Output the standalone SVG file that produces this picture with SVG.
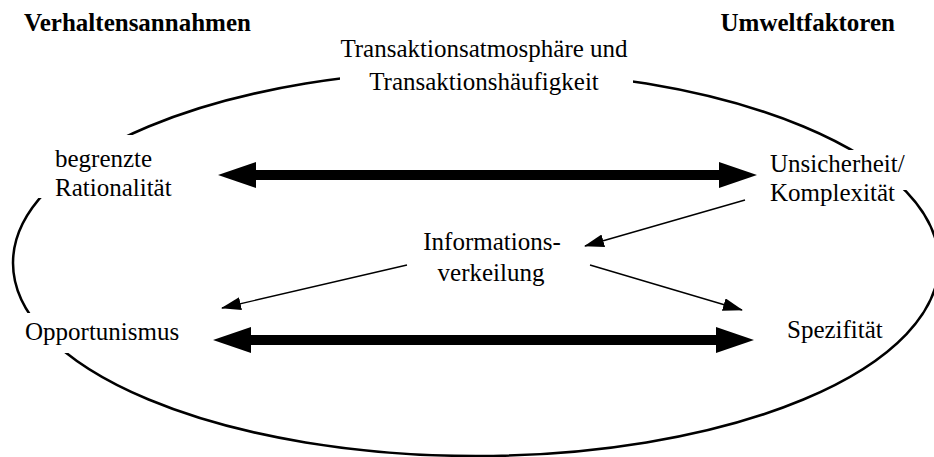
<svg xmlns="http://www.w3.org/2000/svg" width="934" height="457" viewBox="0 0 934 457">
  <defs>
    <style>
      .lbl { font-family: "Liberation Serif", "Times New Roman", serif; font-size: 25px; fill: #000; }
      .head { font-family: "Liberation Serif", "Times New Roman", serif; font-size: 25px; font-weight: bold; fill: #000; }
      .knock { fill: #fff; stroke: none; }
      .thick { stroke: #000; stroke-width: 10; fill: none; }
      .thin { stroke: #000; stroke-width: 1.4; fill: none; }
      .ring { stroke: #000; stroke-width: 2.5; fill: none; }
    </style>
    <marker id="bighead" markerUnits="userSpaceOnUse" viewBox="0 0 38 26" refX="0" refY="13" markerWidth="38" markerHeight="26" orient="auto-start-reverse">
      <path d="M0,0 L38,13 L0,26 z" fill="#000"/>
    </marker>
    <marker id="smallhead" markerUnits="userSpaceOnUse" viewBox="0 0 20 13" refX="19" refY="6.5" markerWidth="20" markerHeight="13" orient="auto">
      <path d="M0,0 L20,6.5 L0,13 z" fill="#000"/>
    </marker>
  </defs>
  <rect width="934" height="457" fill="#fff"/>

  <!-- outer ring enclosing all factors -->
  <ellipse class="ring" cx="476" cy="263" rx="463" ry="193"/>

  <g id="heading-left">
    <text class="head" x="24" y="31">Verhaltensannahmen</text>
  </g>
  <g id="heading-right">
    <text class="head" x="895" y="31" text-anchor="end">Umweltfaktoren</text>
  </g>

  <g id="node-atmosphaere">
    <rect class="knock" x="340" y="62" width="293" height="36"/>
    <text class="lbl" x="484" y="57" text-anchor="middle">Transaktionsatmosphäre und</text>
    <text class="lbl" x="484" y="90" text-anchor="middle">Transaktionshäufigkeit</text>
  </g>

  <g id="node-rationalitaet">
    <rect class="knock" x="28" y="135" width="160" height="63"/>
    <text class="lbl" x="55" y="167">begrenzte</text>
    <text class="lbl" x="55" y="196">Rationalität</text>
  </g>

  <g id="node-unsicherheit">
    <rect class="knock" x="762" y="150" width="165" height="40"/>
    <text class="lbl" x="770" y="172">Unsicherheit/</text>
    <text class="lbl" x="770" y="201">Komplexität</text>
  </g>

  <g id="node-information">
    <text class="lbl" x="492" y="250" text-anchor="middle">Informations-</text>
    <text class="lbl" x="491" y="281" text-anchor="middle">verkeilung</text>
  </g>

  <g id="node-opportunismus">
    <rect class="knock" x="0" y="313" width="200" height="40"/>
    <text class="lbl" x="25" y="340">Opportunismus</text>
  </g>

  <g id="node-spezifitaet">
    <text class="lbl" x="787" y="338">Spezifität</text>
  </g>

  <g id="connectors">
    <line class="thick" x1="256" y1="175" x2="719" y2="175" marker-start="url(#bighead)" marker-end="url(#bighead)"/>
    <line class="thick" x1="251" y1="340" x2="716" y2="340" marker-start="url(#bighead)" marker-end="url(#bighead)"/>
    <line class="thin" x1="745" y1="200" x2="585" y2="246" marker-end="url(#smallhead)"/>
    <line class="thin" x1="407" y1="265" x2="222" y2="308" marker-end="url(#smallhead)"/>
    <line class="thin" x1="590" y1="265" x2="742" y2="310" marker-end="url(#smallhead)"/>
  </g>
</svg>
